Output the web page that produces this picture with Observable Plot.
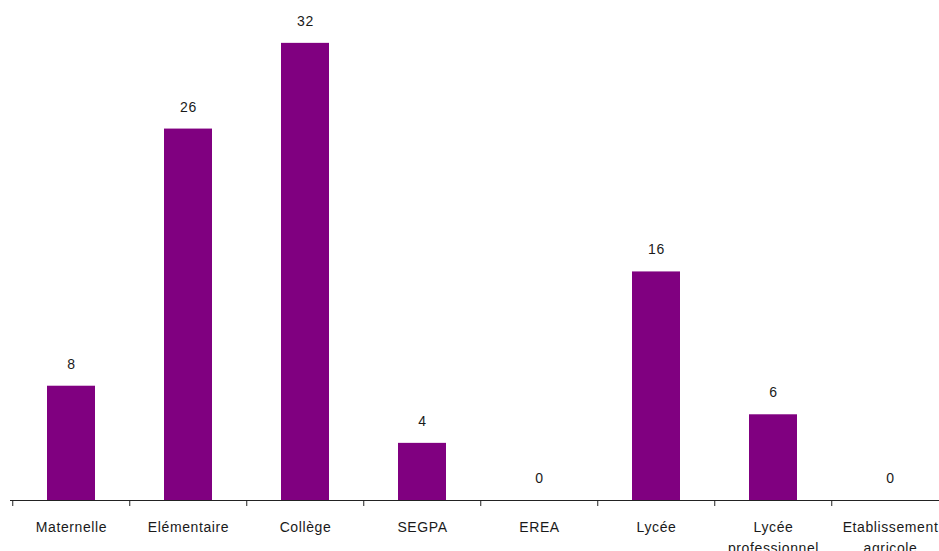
<!DOCTYPE html>
<html>
<head>
<meta charset="utf-8">
<script src="https://cdn.jsdelivr.net/npm/d3@7"></script>
<script src="https://cdn.jsdelivr.net/npm/@observablehq/plot@0.6"></script>
<style>
  html, body { margin: 0; padding: 0; background: #fff; overflow: hidden; }
  #chart svg text { letter-spacing: 0.6px; }
</style>
</head>
<body>
<div id="chart"></div>
<script>
// Number of establishments by type
const categories = ["Maternelle", "Elémentaire", "Collège", "SEGPA", "EREA", "Lycée", "Lycée\nprofessionnel", "Etablissement\nagricole"];
const values = [8, 26, 32, 4, 0, 16, 6, 0];

const data = categories.map((c, i) => ({category: c, value: values[i]}));

const W = 939, H = 551;
const xRange = [10, 950];
const paddingInner = 0.59;
const step = (xRange[1] - xRange[0]) / categories.length;

const plot = Plot.plot({
  width: W,
  height: H,
  marginTop: 0,
  marginBottom: 51,
  marginLeft: 10,
  marginRight: 0,
  style: {fontFamily: "'Liberation Sans', Arial, sans-serif", fontSize: "14px", color: "#1a1a1a", background: "#fff"},
  x: {domain: categories, range: xRange, paddingInner, paddingOuter: paddingInner / 2, align: 0.5},
  y: {domain: [0, 35], range: [H - 51, 0], axis: null},
  marks: [
    Plot.barY(data, {x: "category", y: "value", fill: "#800080"}),
    Plot.text(data, {x: "category", y: "value", text: d => String(d.value), dy: -22, fill: "#1a1a1a", fontSize: 14}),
    Plot.ruleY([0], {stroke: "#222", strokeWidth: 1}),
    // boundary ticks between categories
    Plot.axisX({tickSize: 6, tickFormat: () => "", dx: -step / 2, stroke: "#222", label: null}),
    // category labels
    Plot.axisX({tickSize: 0, tickPadding: 17, lineHeight: 1.5, label: null, fill: "#1a1a1a"})
  ]
});
document.getElementById("chart").appendChild(plot);
</script>
</body>
</html>
